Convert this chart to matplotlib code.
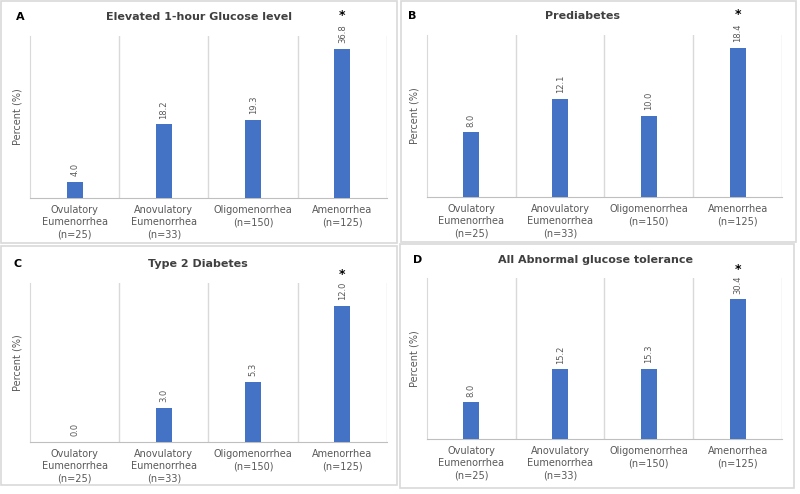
import matplotlib.pyplot as plt
from matplotlib.patches import Rectangle

categories = ["Ovulatory\nEumenorrhea\n(n=25)", "Anovulatory\nEumenorrhea\n(n=33)",
              "Oligomenorrhea\n(n=150)", "Amenorrhea\n(n=125)"]

glucose_1h = [4.0, 18.2, 19.3, 36.8]
prediabetes = [8.0, 12.1, 10.0, 18.4]
type2_diabetes = [0.0, 3.0, 5.3, 12.0]
all_abnormal = [8.0, 15.2, 15.3, 30.4]

titles = ["Elevated 1-hour Glucose level", "Prediabetes", "Type 2 Diabetes",
          "All Abnormal glucose tolerance"]
letters = ["A", "B", "C", "D"]
significant = [3, 3, 3, 3]  # index of bar marked with *

W, H = 800, 494
BAR = "#4472C4"
GREY = "#595959"
LINE = "#d9d9d9"


def fx(x):
    return x / W


def fy(y):
    return 1 - y / H


# pixel layouts: axes (left, top, right, bottom), box, title centre, letter pos, ylim, star offset
panels = [
    dict(data=glucose_1h, ax=(30, 36, 387, 198), box=(1, 1, 397, 243),
         title=(199, 17), letter=(20, 17), ylim=40, star=33),
    dict(data=prediabetes, ax=(427, 35, 782, 197), box=(401, 1, 796, 242),
         title=(583, 16), letter=(412, 16), ylim=20, star=33),
    dict(data=type2_diabetes, ax=(30, 283, 387, 442), box=(1, 246, 397, 485),
         title=(198, 264), letter=(18, 264), ylim=14, star=31),
    dict(data=all_abnormal, ax=(427, 278, 782, 439), box=(400, 244, 794, 488),
         title=(595, 260), letter=(418, 260), ylim=35, star=30),
]

fig = plt.figure(figsize=(8, 4.94), dpi=100)

for i, p in enumerate(panels):
    bx0, by0, bx1, by1 = p["box"]
    fig.add_artist(Rectangle((fx(bx0), fy(by1)), fx(bx1 - bx0), (by1 - by0) / H,
                             transform=fig.transFigure, fill=False,
                             edgecolor=LINE, linewidth=1.2))
    l, t, r, b = p["ax"]
    ax = fig.add_axes([fx(l), fy(b), fx(r - l), (b - t) / H])
    x = range(len(categories))
    ax.bar(x, p["data"], width=0.18, color=BAR, zorder=3)
    ax.set_xlim(-0.5, 3.5)
    ax.set_ylim(0, p["ylim"])
    for s in ["top", "right"]:
        ax.spines[s].set_visible(False)
    ax.spines["left"].set_color(LINE)
    ax.spines["bottom"].set_color("#bfbfbf")
    for g in [0.5, 1.5, 2.5, 3.5]:
        ax.axvline(g, color=LINE, linewidth=1, zorder=1)
    ax.set_yticks([])
    ax.set_xticks(list(x))
    ax.set_xticklabels(categories, fontsize=7, color=GREY, linespacing=1.3)
    ax.tick_params(axis="x", length=0, pad=5)
    ax.set_ylabel("Percent (%)", fontsize=7, color=GREY)
    ax.yaxis.set_label_coords(-0.02, 0.5)
    for j, v in enumerate(p["data"]):
        ax.annotate(f"{v:.1f}", (j, v), xytext=(0, 4), textcoords="offset points",
                    rotation=90, ha="center", va="bottom", fontsize=6, color=GREY)
    k = significant[i]
    ax.annotate("*", (k, p["data"][k]), xytext=(0, p["star"] * 0.72),
                textcoords="offset points", ha="center", va="center",
                fontsize=9, fontweight="bold", color="black", annotation_clip=False)
    fig.text(fx(p["title"][0]), fy(p["title"][1]), titles[i], ha="center", va="center",
             fontsize=8, fontweight="bold", color="#404040")
    fig.text(fx(p["letter"][0]), fy(p["letter"][1]), letters[i], ha="center", va="center",
             fontsize=8, fontweight="bold", color="black")

fig.savefig("out.png", dpi=100)
